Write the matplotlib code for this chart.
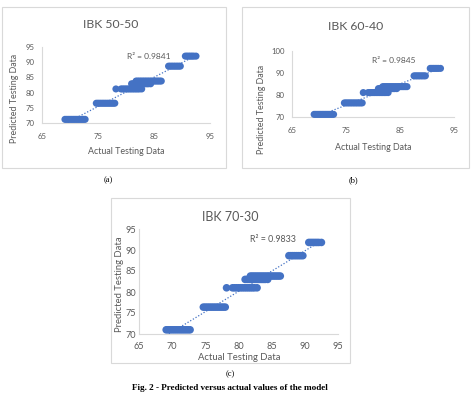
import numpy as np
import matplotlib
matplotlib.use("Agg")
import matplotlib.pyplot as plt
from matplotlib.patches import Rectangle

plt.rcParams['font.family'] = ['Lato', 'DejaVu Sans']

W, H = 472, 393
BLUE = '#4472C4'
GRAY = '#595959'

# x values of each horizontal band of points
band_71_x = [69.1, 69.4, 69.7, 70.0, 70.3, 70.6, 70.9, 71.2, 71.5, 71.8, 72.1, 72.4, 72.7]
band_76_x = [74.7, 75.0, 75.3, 75.6, 75.9, 76.2, 76.5, 76.8, 77.1, 77.4, 77.7, 78.0]
band_81_x = [78.2, 79.1, 79.4, 79.7, 80.0, 80.3, 80.6, 80.9, 81.2, 81.5, 81.8, 82.1, 82.4, 82.8]
band_83_x = [81.0, 81.3, 81.6, 81.9, 82.2, 82.5, 82.8, 83.1, 83.4, 83.7, 84.0, 84.4]
band_84_x = [81.8, 82.1, 82.4, 82.7, 83.0, 83.3, 83.6, 83.9, 84.2, 84.5, 84.8,
             85.1, 85.4, 85.7, 86.0, 86.3]
band_89_x = [87.6, 87.9, 88.2, 88.5, 88.8, 89.1, 89.4, 89.7]
band_92_x = [90.6, 90.9, 91.2, 91.5, 91.8, 92.1, 92.5]
bands_x = [band_71_x, band_76_x, band_81_x, band_83_x, band_84_x, band_89_x, band_92_x]

# predicted level of each band, per panel
levels_a = [71.2, 76.5, 81.2, 82.9, 83.8, 88.7, 92.0]
levels_b = [71.2, 76.4, 81.1, 82.9, 83.8, 88.7, 92.1]
levels_c = [71.0, 76.4, 81.0, 83.0, 83.8, 88.65, 91.8]

titles = ['IBK 50-50', 'IBK 60-40', 'IBK 70-30']
r2_labels = ['R² = 0.9841', 'R² = 0.9845', 'R² = 0.9833']
captions = ['(a)', '(b)', '(c)']
xticks = [[65, 75, 85, 95], [65, 75, 85, 95], [65, 70, 75, 80, 85, 90, 95]]
yticks = [[70, 75, 80, 85, 90, 95], [70, 80, 90, 100], [70, 75, 80, 85, 90, 95]]

# layout in pixels: frame box, axes box, text positions
panels = [
    dict(frame=(2, 7, 226, 168), axes=(42, 47, 210, 123), title=(111, 25), xlab=(126, 152),
         ylab=(15, 98), r2=(84.1, 92.0), cap=(108, 180), fs_t=8.8, fs_tick=5.6, fs_lab=6.4,
         xpad=7, ypad=5, ms=26),
    dict(frame=(242, 7, 469, 168), axes=(292, 51, 454, 117), title=(356, 27), xlab=(373, 147),
         ylab=(261, 109), r2=(83.9, 95.5), cap=(353, 180), fs_t=8.8, fs_tick=5.6, fs_lab=6.4,
         xpad=7, ypad=5, ms=26),
    dict(frame=(111, 198, 350, 363), axes=(139, 229, 338, 334), title=(230, 217), xlab=(239, 358),
         ylab=(120, 284), r2=(85.2, 92.4), cap=(230, 374), fs_t=9.0, fs_tick=6.6, fs_lab=6.8,
         xpad=6, ypad=2, ms=30),
]
levels = [levels_a, levels_b, levels_c]


def fx(px):
    return px / W


def fy(py):
    return 1 - py / H


fig = plt.figure(figsize=(W / 100, H / 100), dpi=100)

for i, p in enumerate(panels):
    x0, y0, x1, y1 = p['frame']
    fig.patches.append(Rectangle((fx(x0), fy(y1)), fx(x1) - fx(x0), fy(y0) - fy(y1),
                                 transform=fig.transFigure, fill=False,
                                 edgecolor='#d9d9d9', linewidth=0.8))

    a0, b0, a1, b1 = p['axes']
    ax = fig.add_axes([fx(a0), fy(b1), fx(a1) - fx(a0), fy(b0) - fy(b1)])

    xs = np.concatenate([np.array(b, dtype=float) for b in bands_x])
    ys = np.concatenate([np.full(len(b), lv) for b, lv in zip(bands_x, levels[i])])
    ax.scatter(xs, ys, s=p['ms'], color=BLUE, edgecolors='none', zorder=3, clip_on=False)

    # linear trendline
    k, c = np.polyfit(xs, ys, 1)
    tx = np.array([xs.min(), xs.max()])
    ax.plot(tx, k * tx + c, linestyle=(0, (1, 1.5)), color=BLUE, linewidth=0.9, zorder=2)

    ax.set_xlim(65, 95)
    ax.set_ylim(yticks[i][0], yticks[i][-1])
    ax.set_xticks(xticks[i])
    ax.set_yticks(yticks[i])
    ax.tick_params(length=0, labelsize=p['fs_tick'], labelcolor=GRAY)
    ax.tick_params(axis='x', pad=p['xpad'])
    ax.tick_params(axis='y', pad=p['ypad'])
    for side in ['top', 'right']:
        ax.spines[side].set_visible(False)
    for side in ['left', 'bottom']:
        ax.spines[side].set_color('#d9d9d9')
        ax.spines[side].set_linewidth(0.8)

    ax.text(p['r2'][0], p['r2'][1], r2_labels[i], ha='center', va='center',
            fontsize=p['fs_lab'] - 0.4, color=GRAY)

    fig.text(fx(p['title'][0]), fy(p['title'][1]), titles[i], ha='center', va='center',
             fontsize=p['fs_t'], color=GRAY)
    fig.text(fx(p['xlab'][0]), fy(p['xlab'][1]), 'Actual Testing Data', ha='center',
             va='center', fontsize=p['fs_lab'], color=GRAY)
    fig.text(fx(p['ylab'][0]), fy(p['ylab'][1]), 'Predicted Testing Data', ha='center',
             va='center', rotation=90, fontsize=p['fs_lab'], color=GRAY)
    fig.text(fx(p['cap'][0]), fy(p['cap'][1]), captions[i], ha='center', va='center',
             fontsize=6, family='Liberation Serif', color='black')

fig.text(fx(230), fy(388), 'Fig. 2 - Predicted versus actual values of the model',
         ha='center', va='center', fontsize=6.6, family='Liberation Serif',
         fontweight='bold', color='black')

fig.savefig('out.png', dpi=100)
